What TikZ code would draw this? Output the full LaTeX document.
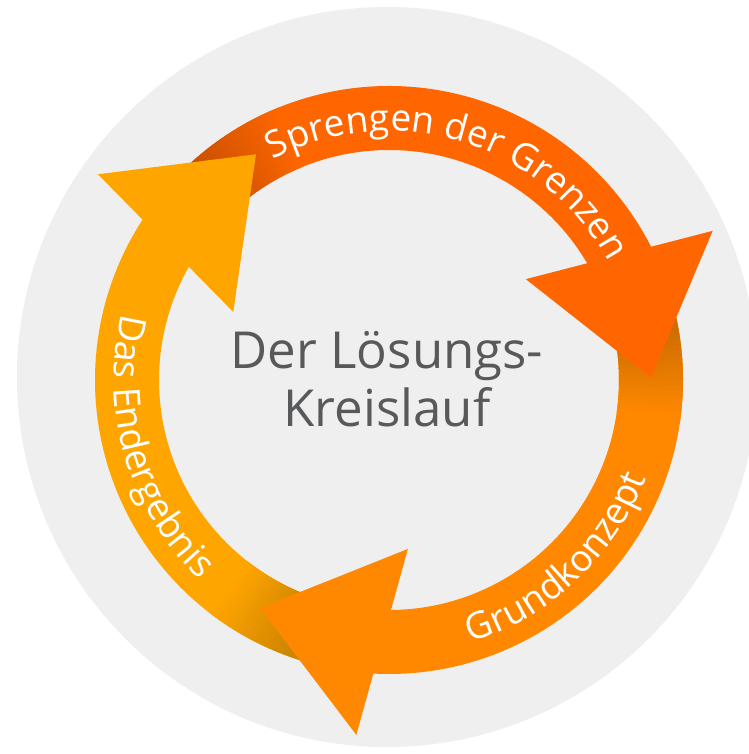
\documentclass[tikz,border=0pt]{standalone}
\usepackage{fontspec}
\setmainfont{Open Sans}
\usetikzlibrary{calc,decorations.text}

\definecolor{bggray}{HTML}{EFEFEF}
\definecolor{titlegray}{HTML}{58595B}
\definecolor{sprengen}{HTML}{FF6600}
\definecolor{grundkonzept}{HTML}{FF8800}
\definecolor{endergebnis}{HTML}{FFA500}

\newcommand{\ringfont}{\fontsize{37}{37}\selectfont}

\tikzset{
  ringtext/.style={decorate, decoration={text along path, text align=center,
      text color=white, text={|\ringfont|#1}}},
  title/.style={text=titlegray, font=\fontsize{51}{58}\selectfont, inner sep=0pt},
}

\begin{document}
\begin{tikzpicture}
    % Canvas and grey disc
    \useasboundingbox (-389pt,380pt) rectangle (359pt,-374pt);
    \fill[white] (-389pt,380pt) rectangle (359pt,-374pt);
    \fill[bggray] (-2pt,3pt) circle[radius=370pt];
    % Arrow bodies, tails darkened under the next head
    \foreach \rot/\col in {0/sprengen, -120/grundkonzept, -240/endergebnis}{
        \begin{scope}[rotate=\rot]
            \clip (140:294pt) arc[start angle=140, end angle=26.6, radius=294pt]
                -- (30.2:230pt) arc[start angle=30.2, end angle=140, radius=230pt] -- cycle;
            \fill[\col] (-300pt,-300pt) rectangle (300pt,300pt);
            \fill[\col!78!black] (0,0) -- (150:320pt)
                arc[start angle=150, end angle=132.5, radius=320pt] -- cycle;
            \foreach \k in {0,...,20}{
                \pgfmathsetmacro{\shadepct}{78+1.1*\k}
                \fill[\col!\shadepct!black] (0,0) -- (133-\k:320pt)
                    arc[start angle=133-\k, end angle=131.8-\k, radius=320pt] -- cycle;
            }
        \end{scope}
    }
    % Arrow heads
    \foreach \rot/\col in {0/sprengen, -120/grundkonzept, -240/endergebnis}{
        \fill[\col, rotate=\rot] ($(28.5:262pt)+(14.5:96.5pt)$) -- (0.5:262pt)
            -- ($(28.5:262pt)-(14.5:96.5pt)$) -- cycle;
    }
    % Labels on the ring
    \path[ringtext={Sprengen der Grenzen}] (137:249pt)
        arc[start angle=137, end angle=9, radius=249pt];
    \path[ringtext={Grundkonzept}] (-106.8:275pt)
        arc[start angle=-106.8, end angle=13.2, radius=275pt];
    \path[ringtext={Das Endergebnis}] (136.3:275pt)
        arc[start angle=136.3, end angle=256.3, radius=275pt];
    % Title
    \node[title, anchor=base] (loesungs) at (-2pt,11pt) {Der Lösungs-};
    \node[title, anchor=base] (kreislauf) at ([yshift=-58pt]loesungs.base) {Kreislauf};
\end{tikzpicture}
\end{document}
